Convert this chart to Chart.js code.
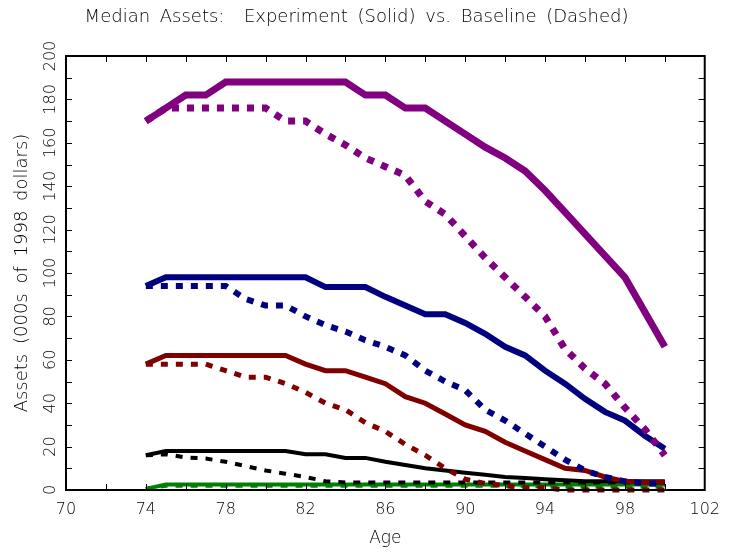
<!DOCTYPE html>
<html>
<head>
<meta charset="utf-8">
<script src="https://cdn.jsdelivr.net/npm/chart.js@4.4.0/dist/chart.umd.min.js"></script>
<style>
  html, body { margin: 0; padding: 0; background: #fff; }
  canvas { display: block; }
</style>
</head>
<body>
<canvas id="assets_chart" width="730" height="554"></canvas>
<script>
// Ages on the x axis
var ages = [74, 75, 76, 77, 78, 79, 80, 81, 82, 83, 84, 85, 86, 87, 88, 89, 90, 91, 92, 93, 94, 95, 96, 97, 98, 99, 100];

// Median assets, 000s of 1998 dollars (solid = experiment, dashed = baseline)
var purpleExp  = [170, 176, 182, 182, 188, 188, 188, 188, 188, 188, 188, 182, 182, 176, 176, 170, 164, 158, 153, 147, 138, 128, 118, 108, 98, 82, 66];
var purpleBase = [170, 176, 176, 176, 176, 176, 176, 170, 170, 164, 159, 153, 149, 145, 133, 127, 117, 107, 98, 89, 80, 65, 56, 49, 38, 28, 16];
var navyExp    = [94, 98, 98, 98, 98, 98, 98, 98, 98, 93.5, 93.5, 93.5, 89, 85, 81, 81, 77, 72, 66, 62, 55, 49, 42, 36, 32, 25, 19];
var navyBase   = [94, 94, 94, 94, 94, 88, 85, 85, 80, 76, 73, 69, 66, 62, 55, 50, 46, 37, 32, 26, 20, 14, 9, 6, 4, 3, 3];
var redExp     = [58, 62, 62, 62, 62, 62, 62, 62, 58, 55, 55, 52, 49, 43, 40, 35, 30, 27, 22, 18, 14, 10, 9, 6, 4, 3.5, 3.5];
var redBase    = [58, 58, 58, 58, 55, 52, 52, 49, 45, 40, 37, 31, 27, 21, 16, 10, 5, 3, 2, 1, 1, 0, 0, 0, 0, 0, 0];
var blackExp   = [16, 18, 18, 18, 18, 18, 18, 18, 16.5, 16.5, 14.8, 14.8, 13, 11.5, 10, 9, 8, 7, 6, 5.5, 5, 4.5, 4, 4, 4, 4, 4];
var blackBase  = [16, 16.5, 15, 14.5, 13, 11, 9, 7.5, 6, 4, 3.5, 3.5, 3.5, 3.5, 3.5, 3.5, 3.5, 3.5, 3.5, 3.5, 3.5, 3.5, 3.5, 3.5, 3.5, 3.5, 3.5];
var greenExp   = [0.5, 2.5, 2.5, 2.5, 2.5, 2.5, 2.5, 2.5, 2.5, 2.5, 2.5, 2.5, 2.5, 2.5, 2.5, 2.5, 2.5, 2.5, 2.5, 2.5, 2.5, 2.5, 2.5, 2.5, 2.5, 2.5, 2.5];
var greenBase  = [0.5, 2, 2, 2, 2, 2, 2, 2, 2, 2, 2, 2, 2, 2, 2, 2, 2, 2, 2, 2, 1.5, 1.5, 1.5, 1.5, 1.5, 1.5, 1.5];

function points(vals) {
  return ages.map(function(a, i) { return { x: a, y: vals[i] }; });
}

function line(label, vals, color, width, dashed) {
  return {
    label: label,
    data: points(vals),
    borderColor: color,
    backgroundColor: color,
    borderWidth: width,
    borderDash: dashed ? [7, 8] : [],
    borderCapStyle: 'butt',
    borderJoinStyle: 'miter',
    pointRadius: 0,
    tension: 0,
    fill: false,
    clip: false
  };
}

// the old plot font has wide spaces, so open the words up a bit
var spacingPlugin = {
  id: 'spacing',
  beforeDraw: function(chart) {
    chart.ctx.wordSpacing = '4px';
  }
};

// box round the plot with small inward ticks on all four sides
var framePlugin = {
  id: 'frame',
  afterDatasetsDraw: function(chart) {
    var ctx = chart.ctx, a = chart.chartArea;
    var xs = chart.scales.x, ys = chart.scales.y;
    ctx.save();
    ctx.strokeStyle = '#000';
    ctx.lineWidth = 1;
    ctx.beginPath();
    for (var v = 72; v < 102; v += 2) {
      var px = Math.round(xs.getPixelForValue(v)) + 0.5;
      ctx.moveTo(px, a.bottom); ctx.lineTo(px, a.bottom - 6);
      ctx.moveTo(px, a.top); ctx.lineTo(px, a.top + 6);
    }
    for (var w = 10; w < 200; w += 10) {
      var py = Math.round(ys.getPixelForValue(w)) + 0.5;
      ctx.moveTo(a.left, py); ctx.lineTo(a.left + 6, py);
      ctx.moveTo(a.right, py); ctx.lineTo(a.right - 6, py);
    }
    ctx.stroke();
    ctx.lineWidth = 2;
    ctx.strokeRect(a.left, a.top, a.right - a.left, a.bottom - a.top);
    ctx.restore();
  }
};

Chart.defaults.font.family = 'DejaVu Sans';
Chart.defaults.font.weight = 200;
Chart.defaults.color = '#000';

var canvas = document.getElementById('assets_chart');
var chart = new Chart(canvas, {
  type: 'line',
  data: {
    datasets: [
      line('Experiment', purpleExp, '#800080', 7, false),
      line('Baseline', purpleBase, '#800080', 7, true),
      line('Experiment', navyExp, '#000080', 6, false),
      line('Baseline', navyBase, '#000080', 6, true),
      line('Experiment', redExp, '#800000', 5, false),
      line('Baseline', redBase, '#800000', 5, true),
      line('Experiment', blackExp, '#000000', 4, false),
      line('Baseline', blackBase, '#000000', 4, true),
      line('Experiment', greenExp, '#008000', 4, false),
      line('Baseline', greenBase, '#008000', 4, true)
    ]
  },
  options: {
    responsive: false,
    animation: false,
    devicePixelRatio: 1,
    layout: { padding: { left: 0, right: 17, top: 0, bottom: 0 } },
    plugins: {
      legend: { display: false },
      tooltip: { enabled: false },
      title: {
        display: true,
        text: 'Median Assets:  Experiment (Solid) vs. Baseline (Dashed)',
        font: { size: 18, weight: 200 },
        color: '#000',
        padding: { top: 7, bottom: 27.4 }
      }
    },
    scales: {
      x: {
        type: 'linear',
        min: 70,
        max: 102,
        grid: { display: false, drawTicks: false },
        border: { display: false },
        ticks: { stepSize: 4, font: { size: 16 }, padding: 10, maxRotation: 0 },
        title: { display: true, text: 'Age', font: { size: 17 }, padding: { top: 0, bottom: 5 } },
        afterFit: function(scale) { scale.height = 64; }
      },
      y: {
        min: 0,
        max: 200,
        grid: { display: false, drawTicks: false },
        border: { display: false },
        ticks: { stepSize: 20, font: { size: 16 }, padding: 0, minRotation: 90, maxRotation: 90, crossAlign: 'center' },
        title: { display: true, text: 'Assets (000s of 1998 dollars)', font: { size: 18 }, padding: { top: 12, bottom: 0 } },
        afterFit: function(scale) { scale.width = 66; }
      }
    }
  },
  plugins: [spacingPlugin, framePlugin]
});
</script>
</body>
</html>
